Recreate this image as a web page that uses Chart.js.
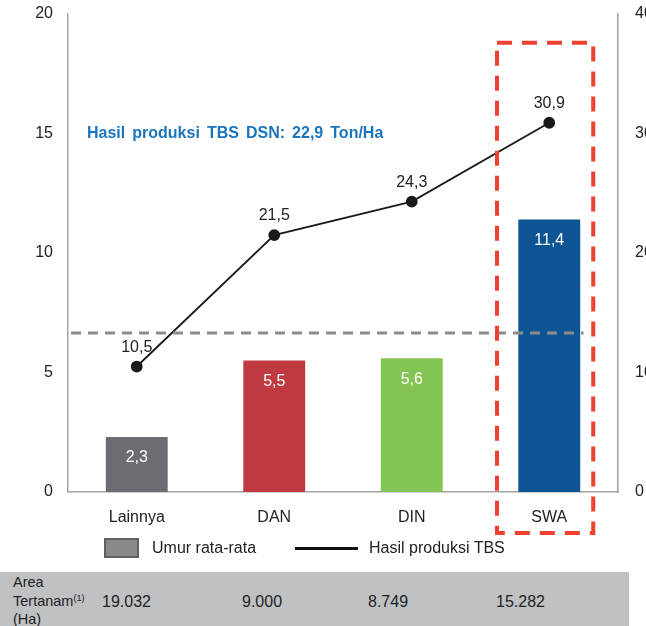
<!DOCTYPE html>
<html>
<head>
<meta charset="utf-8">
<script src="https://cdn.jsdelivr.net/npm/chart.js@4.4.1/dist/chart.umd.min.js"></script>
<style>
  html, body { margin: 0; padding: 0; background: #fff; }
  body { width: 646px; height: 626px; overflow: hidden; position: relative; font-family: "Liberation Sans", Arial, sans-serif; color: #222; }
  #wrap { position: absolute; left: 0; top: 0; width: 670px; height: 626px; }
  .abs { position: absolute; white-space: nowrap; }
  #swatch { left: 104px; top: 538px; width: 35px; height: 20px; background: #8a8a8a; border: 2px solid #5f6163; box-sizing: border-box; }
  #lineKey { left: 295px; top: 547px; width: 63px; height: 3px; background: #111; }
  .legTxt { font-size: 16px; top: 539px; line-height: 18px; }
  #table { left: 0; top: 572px; width: 629px; height: 54px; background: #c0c1c3; }
  #rowHead { left: 13px; top: 1px; font-size: 14.5px; line-height: 18.5px; }
  #rowHead sup { font-size: 9px; vertical-align: 5px; line-height: 0; }
  .cell { font-size: 16px; top: 21px; line-height: 18px; }
</style>
</head>
<body>
<div id="wrap"><canvas id="chart" width="670" height="626"></canvas></div>
<div class="abs" id="swatch"></div>
<div class="abs legTxt" style="left:152px">Umur rata-rata</div>
<div class="abs" id="lineKey"></div>
<div class="abs legTxt" style="left:369px">Hasil produksi TBS</div>
<div class="abs" id="table">
  <div class="abs" id="rowHead">Area<br>Tertanam<sup>(1)</sup><br>(Ha)</div>
</div>
<script>
const categories = ['Lainnya', 'DAN', 'DIN', 'SWA'];
const umurRataRata = [2.3, 5.5, 5.6, 11.4];
const hasilProduksi = [10.5, 21.5, 24.3, 30.9];
const areaTertanam = ['19.032', '9.000', '8.749', '15.282'];
const rataRataUmurDSN = 6.65;
const noteText = 'Hasil produksi TBS DSN: 22,9 Ton/Ha';
const barColors = ['#6b6d72', '#bf3a40', '#84c455', '#0c5494'];
const tableX = [102, 242, 368, 496];

const table = document.getElementById('table');
areaTertanam.forEach((v, i) => {
  const d = document.createElement('div');
  d.className = 'abs cell';
  d.style.left = tableX[i] + 'px';
  d.textContent = v;
  table.appendChild(d);
});

const fontFam = '"Liberation Sans", Arial, sans-serif';
const fmt = v => String(v).replace('.', ',');

const extras = {
  id: 'extras',
  afterDatasetsDraw(chart) {
    const ctx = chart.ctx;
    const x = chart.scales.x, y = chart.scales.y;
    const area = chart.chartArea;
    const catW = x.width / categories.length;
    ctx.save();

    // garis rata-rata
    const yAvg = y.getPixelForValue(rataRataUmurDSN);
    ctx.strokeStyle = '#8c8c8c';
    ctx.lineWidth = 3;
    ctx.setLineDash([10, 7]);
    ctx.beginPath();
    ctx.moveTo(area.left + 3, yAvg);
    ctx.lineTo(x.getPixelForValue(3) + 0.25 * catW, yAvg);
    ctx.stroke();

    // kotak SWA
    const cx = x.getPixelForValue(3);
    const top = y.getPixelForValue(18.8);
    ctx.strokeStyle = '#f04030';
    ctx.lineWidth = 4;
    ctx.setLineDash([15, 10]);
    ctx.strokeRect(cx - 0.38 * catW, top, 0.7 * catW, area.bottom + 41 - top);
    ctx.setLineDash([]);

    // label nilai
    ctx.font = '16px ' + fontFam;
    ctx.textAlign = 'center';
    ctx.textBaseline = 'middle';
    chart.getDatasetMeta(0).data.forEach((bar, i) => {
      ctx.fillStyle = '#fff';
      ctx.fillText(fmt(umurRataRata[i]), bar.x, bar.y + 21);
    });
    chart.getDatasetMeta(1).data.forEach((pt, i) => {
      ctx.fillStyle = '#222';
      ctx.fillText(fmt(hasilProduksi[i]), pt.x, pt.y - 19);
    });

    // catatan
    ctx.font = 'bold 16px ' + fontFam;
    ctx.textAlign = 'left';
    ctx.fillStyle = '#1b75bc';
    if ('wordSpacing' in ctx) ctx.wordSpacing = '2.6px';
    ctx.fillText(noteText, area.left + 19, y.getPixelForValue(15));
    ctx.restore();
  }
};

const tickFont = { family: fontFam, size: 16 };
const fitY = w => s => { s.width = w; s.paddingTop = 0; s.paddingBottom = 0; };

new Chart(document.getElementById('chart'), {
  data: {
    labels: categories,
    datasets: [{
      type: 'bar',
      label: 'Umur rata-rata',
      data: umurRataRata,
      backgroundColor: barColors,
      categoryPercentage: 1,
      barPercentage: 0.45,
      yAxisID: 'y',
      order: 2
    }, {
      type: 'line',
      label: 'Hasil produksi TBS',
      data: hasilProduksi,
      borderColor: '#1a1a1a',
      backgroundColor: '#1a1a1a',
      borderWidth: 1.8,
      pointRadius: 5,
      yAxisID: 'y1',
      order: 1
    }]
  },
  options: {
    responsive: false,
    animation: false,
    layout: { padding: { top: 14, bottom: 96 } },
    plugins: { legend: { display: false }, tooltip: { enabled: false } },
    scales: {
      x: {
        grid: { display: false, drawTicks: false },
        border: { display: true, color: '#a3a3a3', width: 1.5 },
        ticks: { color: '#222', font: tickFont, padding: 16 },
        afterFit: s => { s.height = 38; s.paddingLeft = 0; s.paddingRight = 0; }
      },
      y: {
        position: 'left',
        min: 0, max: 20,
        grid: { display: false, drawTicks: false },
        border: { display: true, color: '#a3a3a3', width: 1.5 },
        ticks: { stepSize: 5, color: '#222', font: tickFont, padding: 15 },
        afterFit: fitY(68)
      },
      y1: {
        position: 'right',
        min: 0, max: 40,
        grid: { display: false, drawTicks: false },
        border: { display: true, color: '#a3a3a3', width: 1.5 },
        ticks: { stepSize: 10, color: '#222', font: tickFont, padding: 17 },
        afterFit: fitY(52)
      }
    }
  },
  plugins: [extras]
});
</script>
</body>
</html>
